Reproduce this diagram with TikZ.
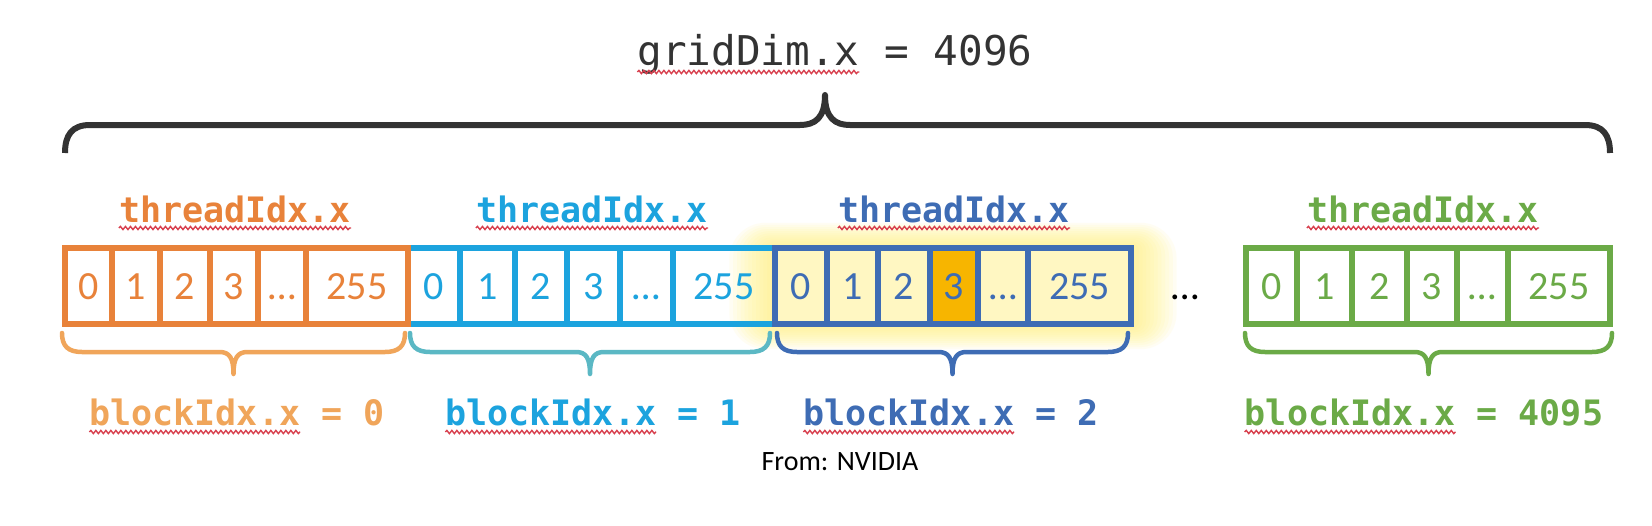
\documentclass[tikz,border=0pt]{standalone}
\usepackage{fontspec}
\setmainfont{Carlito}
\newfontfamily\monof{DejaVu Sans Mono}
\usetikzlibrary{decorations.pathmorphing}
\definecolor{corange}{HTML}{E8823A}
\definecolor{borange}{HTML}{F0A55A}
\definecolor{cblue}{HTML}{1CA3DE}
\definecolor{bteal}{HTML}{5BB8C4}
\definecolor{cdblue}{HTML}{3E6CB4}
\definecolor{cgreen}{HTML}{6BAA47}
\definecolor{cellyellow}{HTML}{FFF7C2}
\definecolor{hilite}{HTML}{F7B500}
\definecolor{glowc}{HTML}{FFF27A}
\definecolor{bgray}{HTML}{333333}
\definecolor{squigred}{HTML}{D8404E}
\tikzset{
  cellbox/.style={draw, line width=6pt, inner sep=0pt, minimum height=76pt,
    text height=26pt, text depth=0pt, font=\fontsize{40}{42}\selectfont},
  lbl/.style={font=\monof\bfseries\fontsize{35}{38}\selectfont, inner sep=0pt, anchor=base},
  squig/.style={draw=squigred, line width=1.4pt, decorate,
    decoration={snake, amplitude=1.6pt, segment length=5pt}},
  bracestyle/.style={line width=4.5pt, line cap=round, line join=round},
}
% #1 prefix, #2 colour, #3..#9 x positions of the vertical lines
\newcommand\cudablock[9]{%
  \node[cellbox, draw=#2, text=#2, minimum width={#4pt-#3pt}, blk cell/.try] (#1c0) at ({(#3+#4)/2},286) {0};
  \node[cellbox, draw=#2, text=#2, minimum width={#5pt-#4pt}, blk cell/.try] (#1c1) at ({(#4+#5)/2},286) {1};
  \node[cellbox, draw=#2, text=#2, minimum width={#6pt-#5pt}, blk cell/.try] (#1c2) at ({(#5+#6)/2},286) {2};
  \node[cellbox, draw=#2, text=#2, minimum width={#7pt-#6pt}, blk cell/.try, blk hl/.try] (#1c3) at ({(#6+#7)/2},286) {3};
  \node[cellbox, draw=#2, text=#2, minimum width={#8pt-#7pt}, blk cell/.try] (#1c4) at ({(#7+#8)/2},286) {…};
  \node[cellbox, draw=#2, text=#2, minimum width={#9pt-#8pt}, blk cell/.try] (#1c5) at ({(#8+#9)/2},286) {255};
}
% #1 colour, #2 left x, #3 right x
\newcommand\ubrace[3]{%
  \draw[bracestyle, draw=#1] (#2,333) .. controls (#2,346) and (#2+6,352) .. (#2+20,352)
    -- ({(#2+#3)/2-14},352) .. controls ({(#2+#3)/2-4},352) and ({(#2+#3)/2},358) .. ({(#2+#3)/2},374)
    .. controls ({(#2+#3)/2},358) and ({(#2+#3)/2+4},352) .. ({(#2+#3)/2+14},352)
    -- (#3-20,352) .. controls (#3-6,352) and (#3,346) .. (#3,333);}
\begin{document}
\begin{tikzpicture}[x=1pt,y=-1pt]
\fill[white] (0,0) rectangle (1652,525);
\useasboundingbox (0,0) rectangle (1652,525);

% top brace and grid label
\node[font=\monof\fontsize{41}{44}\selectfont, text=bgray, inner sep=0pt, anchor=base] (gd) at (835,65) {gridDim.x = 4096};
\draw[squig] ([yshift=-7pt]gd.base west) -- ++(222,0);
\draw[line width=6pt, draw=bgray, line cap=butt, line join=round]
  (65,153) .. controls (65,135) and (72,125) .. (90,125) -- (800,125)
  .. controls (815,125) and (825,118) .. (825,95)
  .. controls (825,118) and (835,125) .. (850,125) -- (1585,125)
  .. controls (1603,125) and (1610,135) .. (1610,153);

% glow behind the highlighted block
\foreach \i in {1,...,12}
  \fill[glowc, opacity=0.09, rounded corners={\i*3pt}] ({775-\i*3.8},{248-\i*2.1}) rectangle ({1131+\i*3.8},{324+\i*2.1});

% blocks
\cudablock{b}{cblue}{408}{460}{515}{567}{620}{673}{775}
\begin{scope}[blk cell/.style={fill=cellyellow}, blk hl/.style={fill=hilite}]
\cudablock{d}{cdblue}{775}{827}{878}{930}{978}{1028}{1131}
\end{scope}
\cudablock{o}{corange}{65}{112}{160}{210}{258}{306}{408}
\cudablock{g}{cgreen}{1246}{1297}{1352}{1407}{1457}{1508}{1610}

\node[cellbox, draw=none, text=black] (dots) at (1185,286) {…};

% braces under blocks
\ubrace{borange}{62}{405}
\ubrace{bteal}{410}{770}
\ubrace{cdblue}{777}{1128}
\ubrace{cgreen}{1245}{1612}

% threadIdx labels
\node[lbl, text=corange] (to) at (235,222) {threadIdx.x};
\node[lbl, text=cblue] (tb) at (592,222) {threadIdx.x};
\node[lbl, text=cdblue] (td) at (954,222) {threadIdx.x};
\node[lbl, text=cgreen] (tg) at (1423,222) {threadIdx.x};
\foreach \n in {to,tb,td,tg}
  \draw[squig] ([yshift=-6pt]\n.base west) -- ([yshift=-6pt]\n.base east);

% blockIdx labels
\node[lbl, text=borange] (bo) at (237,425) {blockIdx.x = 0};
\node[lbl, text=cblue] (bb) at (593,425) {blockIdx.x = 1};
\node[lbl, text=cdblue] (bd) at (951,425) {blockIdx.x = 2};
\node[lbl, text=cgreen] (bg) at (1424,425) {blockIdx.x = 4095};
\foreach \n in {bo,bb,bd,bg}
  \draw[squig] ([yshift=-7pt]\n.base west) -- ++(210.7,0);

\node[font=\fontsize{28}{30}\selectfont, inner sep=0pt, anchor=base] (src) at (840,470) {From: NVIDIA};
\end{tikzpicture}
\end{document}
